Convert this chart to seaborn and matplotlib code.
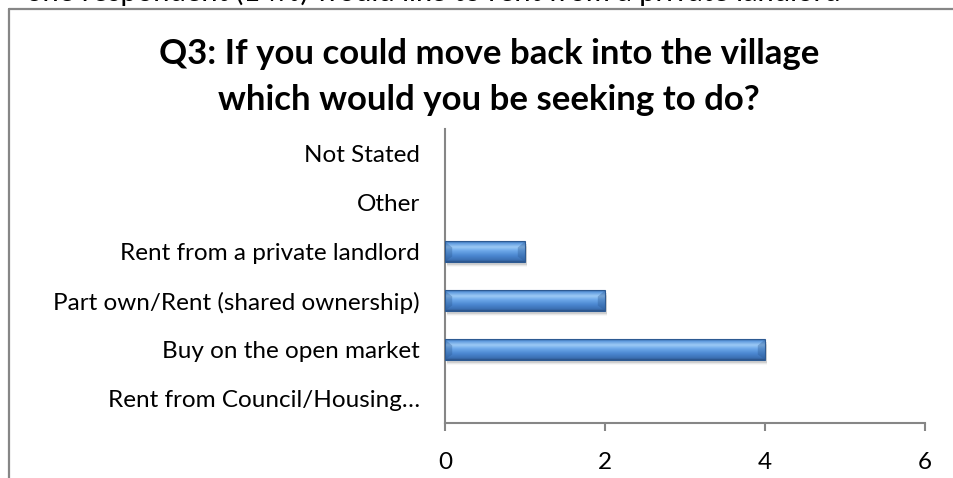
import numpy as np
import pandas as pd
import matplotlib
matplotlib.use("Agg")
import matplotlib.pyplot as plt
from matplotlib.lines import Line2D
from matplotlib.colors import LinearSegmentedColormap
import seaborn as sns

# Survey answers, listed top to bottom as drawn
categories = [
    "Not Stated",
    "Other",
    "Rent from a private landlord",
    "Part own/Rent (shared ownership)",
    "Buy on the open market",
    "Rent from Council/Housing\u2026",
]
responses = [0, 0, 1, 2, 4, 0]
x_ticks = [0, 2, 4, 6]
title_lines = [
    "Q3: If you could move back into the village",
    "which would you be seeking to do?",
]
caption_above = "one respondent (14%) would like to rent from a private landlord"

sns.set_style("white")
plt.rcParams["font.family"] = ["Lato", "DejaVu Sans"]

W, H = 954, 478
fig = plt.figure(figsize=(W / 100, H / 100), dpi=100)

def fx(px):
    return px / W

def fy(py):
    return 1 - py / H

ax = fig.add_axes([fx(445), fy(423), fx(925) - fx(445), fy(129) - fy(423)])

df = pd.DataFrame({"category": categories, "count": responses})
sns.barplot(data=df, x="count", y="category", order=categories, orient="h",
            color="#4a86d0", width=0.41, ax=ax, edgecolor="none",
            linewidth=0, zorder=3)

# Glossy vertical gradient laid over each bar
grad_cmap = LinearSegmentedColormap.from_list(
    "bar_gloss",
    [(0.0, "#2f5f98"), (0.08, "#5a97dd"), (0.28, "#9ecbf6"),
     (0.45, "#6ea9ea"), (0.7, "#4a86d0"), (0.92, "#3b6fb2"), (1.0, "#294f82")],
)
grad = np.linspace(0, 1, 64).reshape(-1, 1)
for patch in list(ax.patches):
    w = patch.get_width()
    if w <= 0:
        continue
    x0, y0, h = patch.get_x(), patch.get_y(), patch.get_height()
    # soft shadow under the bar
    for k, a in enumerate([0.10, 0.06, 0.03]):
        ax.add_patch(plt.Rectangle((x0 + 0.02, y0 + h * 0.15 + k * 0.03), w, h,
                                   color="black", alpha=a, lw=0, zorder=2))
    im = ax.imshow(grad, cmap=grad_cmap, aspect="auto",
                   extent=(x0, x0 + w, y0 + h, y0), zorder=4,
                   interpolation="bicubic")
    im.set_clip_path(patch)
    # bevelled ends
    bev = 0.09
    ax.add_patch(plt.Polygon([(x0, y0), (x0 + bev, y0 + h * 0.3),
                              (x0 + bev, y0 + h * 0.75), (x0, y0 + h)],
                             closed=True, color="#2d5a92", alpha=0.35, lw=0, zorder=5))
    ax.add_patch(plt.Polygon([(x0 + w, y0), (x0 + w - bev, y0 + h * 0.3),
                              (x0 + w - bev, y0 + h * 0.75), (x0 + w, y0 + h)],
                             closed=True, color="#2d5a92", alpha=0.35, lw=0, zorder=5))
    ax.add_patch(plt.Rectangle((x0, y0), w, h, fill=False, ec="#2d5a92",
                               lw=0.8, zorder=6))

ax.set_xlim(0, 6)
ax.set_ylim(len(categories) - 0.5, -0.5)
ax.set_xticks(x_ticks)
ax.set_xticklabels([str(t) for t in x_ticks])
ax.set_xlabel("")
ax.set_ylabel("")

for side in ["top", "right"]:
    ax.spines[side].set_visible(False)
for side in ["left", "bottom"]:
    ax.spines[side].set_color("#868686")
    ax.spines[side].set_linewidth(1.5)
ax.tick_params(axis="x", direction="out", length=6, width=1.5, color="#868686",
               pad=15, labelsize=17.5, labelcolor="black", bottom=True)
ax.tick_params(axis="y", length=0, pad=18, labelsize=17.5, labelcolor="black")
ax.grid(False)

# Title
fig.text(fx(489), fy(64), title_lines[0], ha="center", va="baseline",
         fontsize=25, fontweight="bold", color="black")
fig.text(fx(489), fy(110), title_lines[1], ha="center", va="baseline",
         fontsize=25, fontweight="bold", color="black")

# Chart frame
frame_kw = dict(color="#868686", lw=1.6, transform=fig.transFigure)
fig.add_artist(Line2D([fx(9), fx(9)], [fy(9), fy(H + 5)], **frame_kw))
fig.add_artist(Line2D([fx(9), fx(W + 5)], [fy(9), fy(9)], **frame_kw))

# Running text of the page, continuing above the chart
fig.text(fx(841), fy(1.5), caption_above, ha="right", va="baseline",
         fontsize=21, color="black")

fig.savefig("out.png", dpi=100)
